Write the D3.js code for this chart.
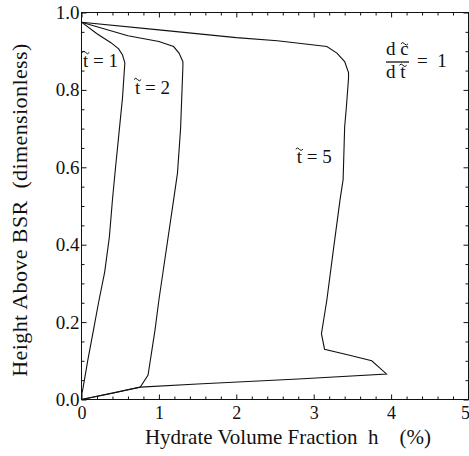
<!DOCTYPE html>
<html>
<head>
<meta charset="utf-8">
<script src="https://cdn.jsdelivr.net/npm/d3@7"></script>
<style>
  body { margin: 0; background: #fff; }
</style>
</head>
<body>
<svg></svg>
<script>
// chart values
const xTicks = [0, 1, 2, 3, 4, 5];
const yTicks = [0, 0.2, 0.4, 0.6, 0.8, 1.0];

// hydrate profile at t~ = 1
const curveT1 = [
    [0, 0.975], [0.2, 0.945], [0.38, 0.922], [0.48, 0.906], [0.53, 0.89], [0.56, 0.87],
    [0.53, 0.78], [0.48, 0.68], [0.44, 0.60], [0.40, 0.516], [0.36, 0.42], [0.30, 0.33],
    [0.22, 0.25], [0.155, 0.18], [0.08, 0.10], [0.02, 0.03], [0, 0.01], [0, 0]
];
// hydrate profile at t~ = 2
const curveT2 = [
    [0, 0.975], [0.6, 0.94], [1.0, 0.925], [1.19, 0.912], [1.26, 0.895], [1.31, 0.873],
    [1.31, 0.86], [1.28, 0.70], [1.24, 0.585], [1.19, 0.516], [1.0, 0.257], [0.95, 0.18],
    [0.86, 0.063], [0.76, 0.032], [0.4, 0.016], [0, 0]
];
// hydrate profile at t~ = 5
const curveT5 = [
    [0, 0.975], [1.0, 0.955], [2.0, 0.935], [2.53, 0.927], [3.17, 0.912], [3.30, 0.895],
    [3.40, 0.873], [3.45, 0.845], [3.45, 0.83], [3.42, 0.75], [3.40, 0.705], [3.38, 0.568],
    [3.34, 0.516], [3.25, 0.38], [3.17, 0.257], [3.10, 0.17], [3.14, 0.13], [3.45, 0.115],
    [3.75, 0.10], [3.94, 0.066], [2.8, 0.053], [1.5, 0.04], [0.76, 0.032], [0, 0]
];
const curveLabels = [
    {text: "1", x: 0.02, y: 0.86},
    {text: "2", x: 0.69, y: 0.79},
    {text: "5", x: 2.78, y: 0.61}
];

const FONT = '"Liberation Serif", "Times New Roman", serif';
const size = {w: 469, h: 456};
const svg = d3.select('svg')
    .attr('width', size.w)
    .attr('height', size.h);

let x = d3.scaleLinear().domain([0, 5]).range([81.5, 468.5]);
let y = d3.scaleLinear().domain([0, 1]).range([399.5, 12.5]);

// minor ticks: 0.2 on x, 0.05 on y
let xMinor = d3.range(0, 5.001, 0.2).filter(v => Math.abs(v - Math.round(v)) > 1e-6);
let yMinor = d3.range(0, 1.001, 0.05).filter(v => Math.abs(v * 5 - Math.round(v * 5)) > 1e-6);

// ticks point inward on all four sides
function tickAxis(axisFn, scale, ticks, len, labels) {
    let a = axisFn(scale).tickValues(ticks).tickSize(-len).tickPadding(6);
    if (!labels) a.tickFormat('');
    return a;
}

let gx = svg.append('g').attr('transform', `translate(0,${y(0)})`)
    .call(tickAxis(d3.axisBottom, x, xTicks, 5, true).tickFormat(d3.format('d')));
svg.append('g').attr('transform', `translate(0,${y(0)})`)
    .call(tickAxis(d3.axisBottom, x, xMinor, 3, false));
svg.append('g').attr('transform', `translate(0,${y(1)})`)
    .call(tickAxis(d3.axisTop, x, xTicks, 5, false));
svg.append('g').attr('transform', `translate(0,${y(1)})`)
    .call(tickAxis(d3.axisTop, x, xMinor, 3, false));

let gy = svg.append('g').attr('transform', `translate(${x(0)},0)`)
    .call(tickAxis(d3.axisLeft, y, yTicks, 5, true).tickFormat(d3.format('.1f')));
svg.append('g').attr('transform', `translate(${x(0)},0)`)
    .call(tickAxis(d3.axisLeft, y, yMinor, 3, false));
svg.append('g').attr('transform', `translate(${x(5)},0)`)
    .call(tickAxis(d3.axisRight, y, yTicks, 5, false));
svg.append('g').attr('transform', `translate(${x(5)},0)`)
    .call(tickAxis(d3.axisRight, y, yMinor, 3, false));

svg.selectAll('.domain').remove();
svg.selectAll('.tick line').attr('stroke', '#111');
gx.selectAll('text').style('font-size', '18px').attr('dy', '0.71em').attr('y', 7);
// the last label sits on the page edge, pull it inside
gx.selectAll('text').filter(d => d === 5).attr('text-anchor', 'end').attr('x', 1);
gy.selectAll('text').style('font-size', '19px').attr('x', -2);

// frame
svg.append('rect')
    .attr('x', x(0)).attr('y', y(1))
    .attr('width', x(5) - x(0)).attr('height', y(0) - y(1))
    .attr('fill', 'none').attr('stroke', '#111').attr('stroke-width', 1);

// curves
let line = d3.line().x(d => x(d[0])).y(d => y(d[1]));
svg.append('g').selectAll('path')
    .data([curveT1, curveT2, curveT5])
    .enter()
    .append('path')
    .attr('d', d => line(d))
    .attr('fill', 'none')
    .attr('stroke', '#111')
    .attr('stroke-width', 1.1);

// small wavy accent over a letter (the font's combining tilde sits off-centre)
function tilde(g, cx, ty) {
    g.append('path')
        .attr('d', `M${cx - 3.6},${ty + 0.8} q1.8,-2.6 3.6,0 t3.6,0`)
        .attr('fill', 'none')
        .attr('stroke', '#111')
        .attr('stroke-width', 1);
}

// curve labels  t~ = n
let labG = svg.append('g');
curveLabels.forEach(function(d) {
    let fs = 19;
    labG.append('text')
        .attr('x', x(d.x)).attr('y', y(d.y))
        .style('font-size', fs + 'px')
        .text('t = ' + d.text);
    tilde(labG, x(d.x) + fs * 0.14, y(d.y) - 15);
});

// dc~/dt~ = 1
let frac = svg.append('g').attr('transform', 'translate(386,0)');
frac.append('text').attr('x', 0).attr('y', 55)
    .style('font-size', '19px').style('white-space', 'pre').text('d c');
tilde(frac, 18.5, 43);
frac.append('line').attr('x1', 0).attr('x2', 23).attr('y1', 62).attr('y2', 62)
    .attr('stroke', '#111').attr('stroke-width', 1.3);
frac.append('text').attr('x', 0).attr('y', 78)
    .style('font-size', '19px').style('white-space', 'pre').text('d t');
tilde(frac, 17, 64.5);
frac.append('text').attr('x', 31).attr('y', 67)
    .style('font-size', '19px').style('white-space', 'pre').text('=  1');

// axis titles
svg.append('text')
    .attr('x', (x(0) + x(5)) / 2 + 13).attr('y', 444)
    .attr('text-anchor', 'middle')
    .style('font-size', '21px')
    .style('white-space', 'pre')
    .text('Hydrate Volume Fraction  h    (%)');

svg.append('text')
    .attr('transform', `translate(27,${(y(0) + y(1)) / 2 + 4}) rotate(-90)`)
    .attr('text-anchor', 'middle')
    .style('font-size', '22px')
    .style('letter-spacing', '0.4px')
    .style('white-space', 'pre')
    .text('Height Above BSR  (dimensionless)');

// serif everywhere, like the original figure
svg.selectAll('g').attr('font-family', null);
svg.selectAll('text').style('font-family', FONT).attr('fill', '#111');
</script>
</body>
</html>
